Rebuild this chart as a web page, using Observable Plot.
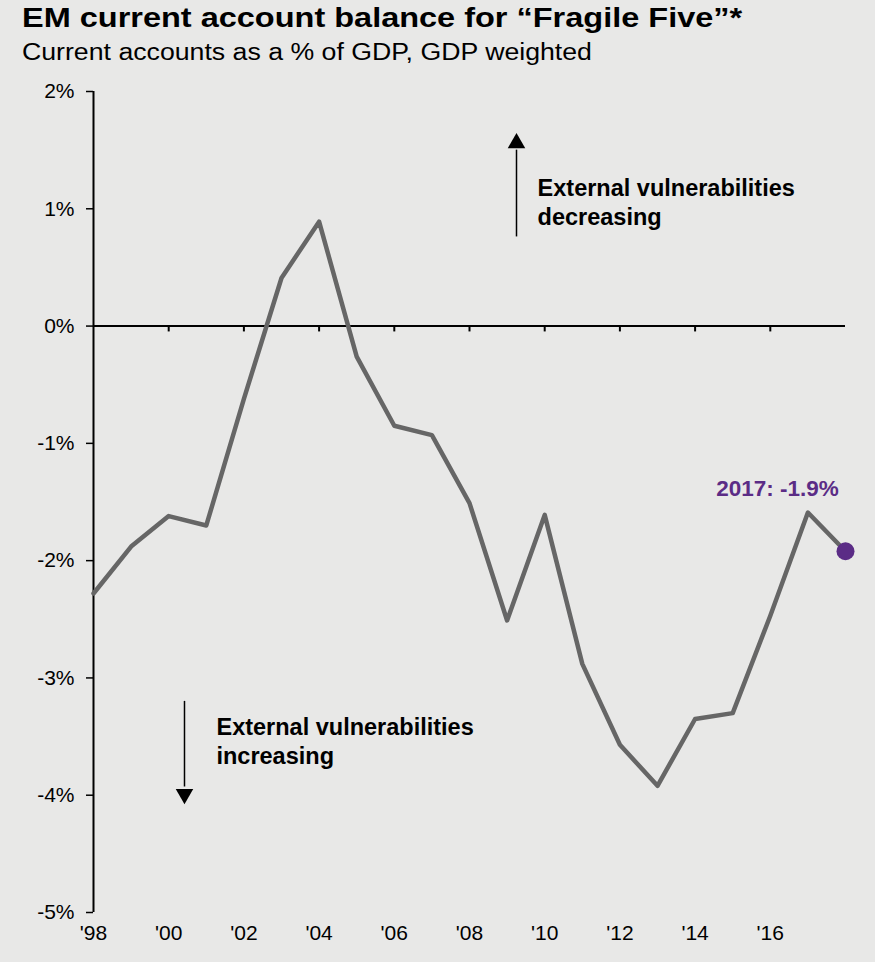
<!DOCTYPE html>
<html>
<head>
<meta charset="utf-8">
<script src="https://cdn.jsdelivr.net/npm/d3@7"></script>
<script src="https://cdn.jsdelivr.net/npm/@observablehq/plot@0.6"></script>
<style>
  html, body { margin: 0; padding: 0; background: #e8e8e7; }
  body { width: 875px; height: 962px; overflow: hidden; }
  #title { font-family: "Liberation Sans", Arial, sans-serif; font-weight: bold; font-size: 28px; color: #000; position: absolute; left: 22px; top: 2px; white-space: nowrap; transform: scaleX(1.16); transform-origin: 0 0; }
  #subtitle { font-family: "Liberation Sans", Arial, sans-serif; font-size: 23px; color: #000; position: absolute; left: 22px; top: 39px; white-space: nowrap; transform: scaleX(1.16); transform-origin: 0 0; }
  #chart { position: absolute; left: 0; top: 70px; }
</style>
</head>
<body>
<div id="title">EM current account balance for “Fragile Five”*</div>
<div id="subtitle">Current accounts as a % of GDP, GDP weighted</div>
<div id="chart"></div>
<script>
const years = [1998,1999,2000,2001,2002,2003,2004,2005,2006,2007,2008,2009,2010,2011,2012,2013,2014,2015,2016,2017,2018];
const balance = [-2.28,-1.88,-1.62,-1.70,-0.62,0.41,0.89,-0.26,-0.85,-0.93,-1.51,-2.51,-1.61,-2.88,-3.57,-3.92,-3.35,-3.30,-2.47,-1.59,-1.92];
const yTicks = [2,1,0,-1,-2,-3,-4,-5];
const xTicks = [1998,2000,2002,2004,2006,2008,2010,2012,2014,2016];
const lastLabel = "2017: -1.9%";
const upText = "External vulnerabilities\ndecreasing";
const downText = "External vulnerabilities\nincreasing";

const data = years.map((y, i) => ({year: y, value: balance[i]}));
const last = data[data.length - 1];

const upArrow = [{x: 2009.25, y1: 0.76, y2: 1.50, head: 1.56}];
const downArrow = [{x: 2000.42, y1: -3.20, y2: -3.93, head: -3.99}];
const notes = [
  {x: 2009.81, y: 1.285, text: upText},
  {x: 2001.27, y: -3.31, text: downText}
];

const font = "'Liberation Sans', Arial, sans-serif";

const plot = Plot.plot({
  width: 875,
  height: 892,
  marginLeft: 93,
  marginRight: 30,
  marginTop: 21,
  marginBottom: 50,
  style: {background: "transparent", fontFamily: font},
  x: {domain: [1998, 2018]},
  y: {domain: [-5, 2]},
  marks: [
    Plot.axisY({ticks: yTicks, tickFormat: d => d + "%", tickSize: 7, tickPadding: 12, fontSize: 21, label: null, stroke: "#000", strokeWidth: 1.5, color: "#000"}),
    Plot.ruleX([1998], {y1: -5, y2: 2, stroke: "#000", strokeWidth: 2}),
    Plot.axisX({ticks: xTicks, tickFormat: d => "'" + String(d).slice(2), tickSize: 0, tickPadding: 13, fontSize: 21, label: null, color: "#000"}),
    Plot.ruleY([0], {x1: 1998, x2: 2018, stroke: "#000", strokeWidth: 2}),
    Plot.ruleX(xTicks.slice(1), {y1: 0, y2: -0.05, stroke: "#000", strokeWidth: 2}),
    Plot.line(data, {x: "year", y: "value", stroke: "#666666", strokeWidth: 4.5, curve: "linear"}),
    Plot.dot([last], {x: "year", y: "value", r: 9, fill: "#5b2c86", stroke: "none"}),
    Plot.text([last], {x: "year", y: "value", text: () => lastLabel, dy: -62, dx: -68, fill: "#5b2c86", fontSize: 22.5, fontWeight: "bold", textAnchor: "middle"}),
    Plot.ruleX(upArrow, {x: "x", y1: "y1", y2: "y2", stroke: "#000", strokeWidth: 1.5}),
    Plot.dot(upArrow, {x: "x", y: "head", symbol: "triangle", r: 6.5, fill: "#000", stroke: "none"}),
    Plot.ruleX(downArrow, {x: "x", y1: "y1", y2: "y2", stroke: "#000", strokeWidth: 1.5}),
    Plot.dot(downArrow, {x: "x", y: "head", symbol: "triangle", r: 6.5, fill: "#000", stroke: "none", rotate: 180}),
    Plot.text(notes, {x: "x", y: "y", text: "text", textAnchor: "start", lineAnchor: "top", lineHeight: 1.23, fontSize: 23.5, fontWeight: "bold", fill: "#000"})
  ]
});
document.getElementById("chart").appendChild(plot);
</script>
</body>
</html>
